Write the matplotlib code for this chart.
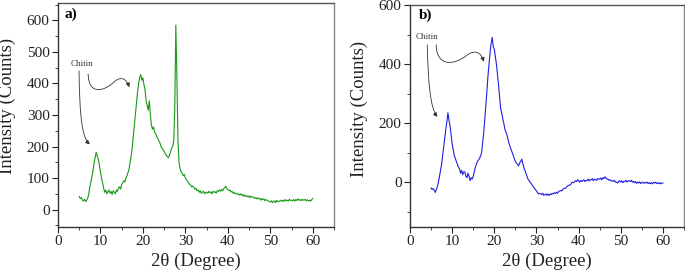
import numpy as np
import matplotlib
matplotlib.use("Agg")
import matplotlib.pyplot as plt
from matplotlib.path import Path
from matplotlib.patches import FancyArrowPatch
from matplotlib.ticker import MultipleLocator

# 2-theta grid (degrees), 0.25 deg steps from 5 to 60
two_theta = np.arange(5, 60.001, 0.25)

# Panel a) intensity (counts)
intensity_a = [
    42, 35, 38, 30,
    28, 33, 25, 30,
    36, 50, 72, 88,
    105, 125, 148, 165,
    182, 170, 160, 140,
    120, 100, 85, 68,
    55, 62, 50, 58,
    62, 52, 58, 48,
    60, 55, 50, 62,
    58, 68, 72, 65,
    80, 85, 92, 88,
    100, 108, 118, 130,
    150, 172, 200, 235,
    270, 305, 340, 375,
    400, 420, 428, 410,
    418, 395, 380, 345,
    330, 315, 345, 300,
    268, 255, 262, 245,
    240, 232, 225, 218,
    212, 200, 195, 190,
    185, 178, 172, 168,
    165, 172, 182, 195,
    200, 215, 320, 585,
    420, 220, 150, 130,
    120, 115, 108, 112,
    100, 95, 90, 85,
    80, 78, 72, 75,
    70, 65, 68, 60,
    62, 55, 60, 52,
    56, 58, 50, 55,
    55, 52, 58, 54,
    56, 50, 58, 55,
    57, 52, 60, 58,
    62, 58, 64, 60,
    66, 70, 74, 68,
    64, 60, 62, 56,
    58, 52, 55, 50,
    52, 48, 50, 46,
    50, 45, 48, 42,
    46, 42, 44, 40,
    44, 38, 42, 40,
    40, 36, 38, 34,
    38, 34, 36, 30,
    35, 32, 34, 28,
    32, 30, 28, 26,
    24, 28, 22, 26,
    28, 22, 30, 26,
    25, 28, 30, 26,
    30, 26, 32, 28,
    30, 27, 33, 29,
    30, 28, 32, 27,
    32, 29, 34, 30,
    32, 28, 33, 30,
    30, 33, 28, 31,
    28, 30, 27, 32,
    35,
]

# Panel b) intensity (counts)
intensity_b = [
    -20, -25, -22, -28,
    -35, -25, -15, 0,
    20, 40, 60, 90,
    120, 150, 180, 205,
    235, 210, 190, 160,
    130, 110, 90, 80,
    70, 60, 50, 45,
    30, 40, 25, 35,
    35, 20, 15, 30,
    20, 5, 15, 10,
    20, 35, 50, 60,
    70, 75, 80, 90,
    100, 135, 170, 215,
    260, 310, 360, 400,
    440, 470, 490, 460,
    450, 425, 400, 365,
    330, 290, 250, 235,
    215, 200, 180, 170,
    160, 145, 130, 120,
    110, 100, 90, 80,
    70, 65, 60, 55,
    65, 70, 78, 65,
    50, 40, 30, 20,
    10, 5, 0, -5,
    -10, -15, -20, -25,
    -30, -35, -40, -38,
    -40, -42, -38, -45,
    -42, -40, -45, -40,
    -45, -40, -42, -38,
    -40, -36, -38, -34,
    -38, -32, -30, -28,
    -30, -25, -22, -20,
    -20, -15, -12, -10,
    -10, -5, 0, -2,
    0, 5, 2, 8,
    5, 0, 6, 2,
    5, 8, 2, 6,
    5, 10, 4, 8,
    8, 12, 5, 10,
    8, 6, 12, 10,
    10, 14, 8, 15,
    12, 18, 14, 10,
    10, 6, 8, 4,
    5, 2, 6, 0,
    0, -3, 2, 5,
    0, 4, -2, 3,
    2, 6, 0, 4,
    5, 2, 6, 0,
    3, -2, 2, -4,
    0, -3, 1, -5,
    -2, 0, -4, -1,
    -3, 0, -5, -2,
    -5, -2, -6, -1,
    -3, 0, -5, -2,
    -5, -2, -6, -3,
    -3,
]

x_ticks = [0, 10, 20, 30, 40, 50, 60]
x_label = "2\u03b8 (Degree)"
y_label = "Intensity (Counts)"
panel_labels = ["a)", "b)"]
note = "Chitin"

plt.rcParams["font.family"] = ["Liberation Serif", "DejaVu Serif"]

fig = plt.figure(figsize=(6.85, 2.77), dpi=100)
ax_a = fig.add_axes([58 / 685, 1 - 227 / 277, 276 / 685, 224 / 277])
ax_b = fig.add_axes([410 / 685, 1 - 227 / 277, 274 / 685, 222 / 277])


def style(ax, ylim, ymajor, yminor):
    ax.set_xlim(0, 65)
    ax.set_ylim(*ylim)
    ax.set_xticks(x_ticks)
    ax.xaxis.set_minor_locator(MultipleLocator(5))
    ax.yaxis.set_major_locator(MultipleLocator(ymajor))
    ax.yaxis.set_minor_locator(MultipleLocator(yminor))
    ax.tick_params(which="major", direction="out", length=4, width=0.8,
                   labelsize=11, colors="#222222", pad=2)
    ax.tick_params(which="minor", direction="out", length=2.5, width=0.7,
                   colors="#444444")
    for s in ("left", "bottom"):
        ax.spines[s].set_color("#333333")
        ax.spines[s].set_linewidth(1.0)
    ax.spines["top"].set_color("#555555")
    ax.spines["right"].set_color("#888888")
    ax.spines["top"].set_linewidth(1.0)
    ax.spines["right"].set_linewidth(1.0)
    ax.set_xlabel(x_label, fontsize=13.5, color="#222222")
    ax.set_ylabel(y_label, fontsize=13.5, color="#222222")
    ax.xaxis.set_label_coords(0.5, -0.115)


def curved_arrow(ax, verts):
    codes = [Path.MOVETO] + [Path.CURVE4] * (len(verts) - 1)
    p = Path(verts, codes)
    arr = FancyArrowPatch(path=p, arrowstyle="-|>", mutation_scale=6,
                          lw=0.6, color="#333333", transform=ax.transData)
    ax.add_patch(arr)


# Panel a
ax_a.plot(two_theta, intensity_a, color="#179a17", lw=0.8)
style(ax_a, (-55, 655), 100, 50)
ax_a.yaxis.set_label_coords(-0.152, 0.54)
ax_a.text(0.025, 0.95, panel_labels[0], transform=ax_a.transAxes,
          fontsize=11, fontweight="bold", va="center", ha="left")
ax_a.text(5.6, 462, note, fontsize=6.5, ha="center", va="center", color="#333333")
curved_arrow(ax_a, [(4.95, 440), (5.1, 300), (5.6, 230), (7.5, 207)])
curved_arrow(ax_a, [(7.1, 430), (7.2, 360), (11.0, 375), (13.5, 408),
                    (15.2, 425), (16.2, 410), (16.8, 388)])

# Panel b
ax_b.plot(two_theta, intensity_b, color="#1f1fdc", lw=0.8)
style(ax_b, (-152, 600), 200, 100)
ax_b.yaxis.set_label_coords(-0.153, 0.53)
ax_b.text(0.033, 0.955, panel_labels[1], transform=ax_b.transAxes,
          fontsize=11, fontweight="bold", va="center", ha="left")
ax_b.text(4.0, 492, note, fontsize=6.5, ha="center", va="center", color="#333333")
curved_arrow(ax_b, [(4.1, 465), (4.3, 330), (4.9, 250), (6.5, 221)])
curved_arrow(ax_b, [(6.2, 465), (6.3, 390), (10.5, 395), (13.5, 430),
                    (15.5, 450), (16.8, 440), (17.5, 408)])

fig.savefig("out.png", dpi=100)
